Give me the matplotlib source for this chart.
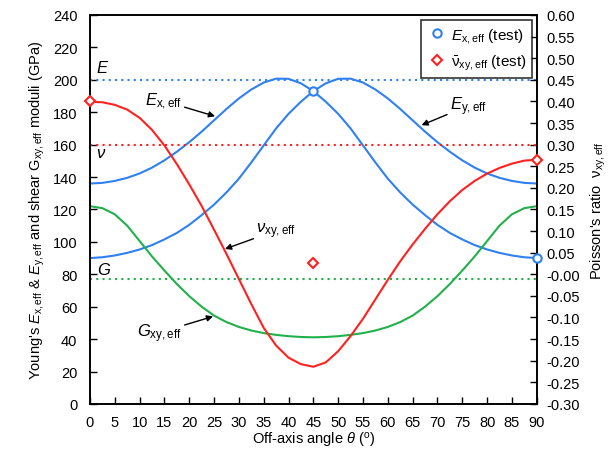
import matplotlib.pyplot as plt
import numpy as np

plt.rcParams['font.family'] = 'Liberation Sans'
plt.rcParams['mathtext.fontset'] = 'custom'
plt.rcParams['mathtext.rm'] = 'Liberation Sans'
plt.rcParams['mathtext.it'] = 'Liberation Sans:italic'

# off-axis angle (deg)
theta = np.arange(0, 90.1, 2.5)

# effective moduli (GPa)
Ex = [136, 136.4, 137.6, 139.5, 142.2, 145.8, 150.3, 155.6, 161.5, 168, 175, 182, 188.5, 194, 198.3,
      200.7, 200.6, 197.8, 193, 186.5, 179, 170, 159.5, 149, 139, 130.5, 123, 116.5, 110.5, 105.5, 101.5,
      98, 95.3, 93.2, 91.6, 90.5, 90]
Ey = [90, 90.5, 91.6, 93.2, 95.3, 98, 101.5, 105.5, 110.5, 116.5, 123, 130.5, 139, 149, 159.5, 170,
      179, 186.5, 193, 197.8, 200.6, 200.7, 198.3, 194, 188.5, 182, 175, 168, 161.5, 155.6, 150.3, 145.8,
      142.2, 139.5, 137.6, 136.4, 136]
Gxy = [122, 120.8, 117, 110, 100.5, 91, 82.3, 74, 66.5, 60, 54.5, 50.5, 47.5, 45.3, 43.7, 42.6, 41.8,
       41.3, 41.1, 41.3, 41.8, 42.6, 43.7, 45.3, 47.5, 50.5, 54.5, 60, 66.5, 74, 82.3, 91, 100.5, 110, 117,
       120.8, 122]

# effective Poisson's ratio
nu_xy = [0.399, 0.398, 0.392, 0.381, 0.362, 0.334, 0.298, 0.255, 0.208, 0.158, 0.103, 0.047, -0.011,
         -0.069, -0.124, -0.165, -0.193, -0.208, -0.214, -0.204, -0.178, -0.143, -0.103, -0.058, -0.013,
         0.030, 0.069, 0.105, 0.139, 0.169, 0.195, 0.216, 0.233, 0.246, 0.256, 0.263, 0.265]

# isotropic reference values
E_iso = 200
nu_iso = 0.30
G_iso = 77

# test results
theta_E_test = [45, 90]
E_test = [193, 90]
theta_nu_test = [0, 45, 90]
nu_test = [0.40, 0.025, 0.265]

blue = '#2F80F0'
red = '#FF2020'
green = '#22B04C'

fig, ax = plt.subplots(figsize=(6.12, 4.56), dpi=100)
fig.subplots_adjust(left=0.147, right=0.877, bottom=0.112, top=0.965)
ax2 = ax.twinx()

ax.plot(theta, Ex, color=blue, lw=1.5)
ax.plot(theta, Ey, color=blue, lw=1.5)
ax.plot(theta, Gxy, color=green, lw=1.5)
ax.axhline(E_iso, color=blue, ls=(0, (1, 2)), lw=1.5)
ax.axhline(G_iso, color=green, ls=(0, (1, 2)), lw=1.5)
ax2.plot(theta, nu_xy, color=red, lw=1.5)
ax2.axhline(nu_iso, color=red, ls=(0, (1, 2)), lw=1.5)

# E test points are drawn on the Poisson axis so they sit above every curve
hE, = ax2.plot(theta_E_test, [e * 0.9 / 240 - 0.3 for e in E_test], 'o', ms=6, mfc='white', mec=blue,
               mew=1.5, clip_on=False, zorder=5, label='$E_{\\mathrm{x,eff}}$ (test)')
hN, = ax2.plot(theta_nu_test, nu_test, 'D', ms=5.5, mfc='white', mec=red, mew=1.5, clip_on=False,
               zorder=5, label='$\\bar{\\mathrm{\\nu}}_{\\mathrm{xy,eff}}$ (test)')

ax.set_xlim(0, 90)
ax.set_ylim(0, 240)
ax2.set_ylim(-0.30, 0.60)
ax.set_xticks(np.arange(0, 91, 5))
ax.set_yticks(np.arange(0, 241, 20))
ax2.set_yticks(np.arange(-0.30, 0.601, 0.05))
ax2.set_yticklabels(['%.2f' % v for v in np.arange(-0.30, 0.601, 0.05)])
ax.tick_params(direction='in', labelsize=10.5, length=5, width=1, top=False)
ax2.tick_params(direction='in', labelsize=10.5, length=5, width=1, pad=7)
ax.tick_params(axis='x', pad=8)
ax.tick_params(axis='y', pad=9)
for a in (ax, ax2):
    for s in a.spines.values():
        s.set_linewidth(1.2)

ax.set_xlabel('Off-axis angle $\\mathit{\\theta}$ ($^{\\mathrm{o}}$)', fontsize=10.5, labelpad=1)
ax.set_ylabel("Young's $E_{\\mathrm{x,eff}}$ & $E_{\\mathrm{y,eff}}$ and shear G$_{\\mathrm{xy,eff}}$ moduli (GPa)",
              fontsize=10.5, labelpad=4)
ax2.set_ylabel("Poisson's ratio  $\\mathrm{\\nu}_{\\mathrm{xy,eff}}$", fontsize=10.5, labelpad=6)

# reference labels
ax.text(1.2, 208, '$E$', fontsize=12, ha='left', va='center')
ax.text(1.2, 155, '$\\nu$', fontsize=12, ha='left', va='center')
ax.text(1.5, 83, '$G$', fontsize=12, ha='left', va='center')

arrow = dict(arrowstyle='-|>', color='k', lw=1, mutation_scale=9, shrinkA=0, shrinkB=0)
ax.annotate('$E_{\\mathrm{x,eff}}$', xy=(25.2, 177.5), xytext=(18.5, 187), fontsize=12,
            ha='right', va='center', arrowprops=arrow)
ax.annotate('$E_{\\mathrm{y,eff}}$', xy=(66.8, 172), xytext=(72.5, 184), fontsize=12,
            ha='left', va='center', arrowprops=arrow)
ax.annotate('$\\nu_{\\mathrm{xy,eff}}$', xy=(27.2, 95.6), xytext=(33.5, 107), fontsize=12,
            ha='left', va='center', arrowprops=arrow)
ax.annotate('$G_{\\mathrm{xy,eff}}$', xy=(24.8, 54), xytext=(18.5, 44), fontsize=12,
            ha='right', va='center', arrowprops=arrow)

leg = ax2.legend(handles=[hE, hN], loc='upper right', fontsize=11, frameon=True, fancybox=False,
                 edgecolor='k', handletextpad=0.3, borderaxespad=0.3, handlelength=1.2)
leg.get_frame().set_linewidth(1.2)

plt.savefig('out.png', dpi=100)
